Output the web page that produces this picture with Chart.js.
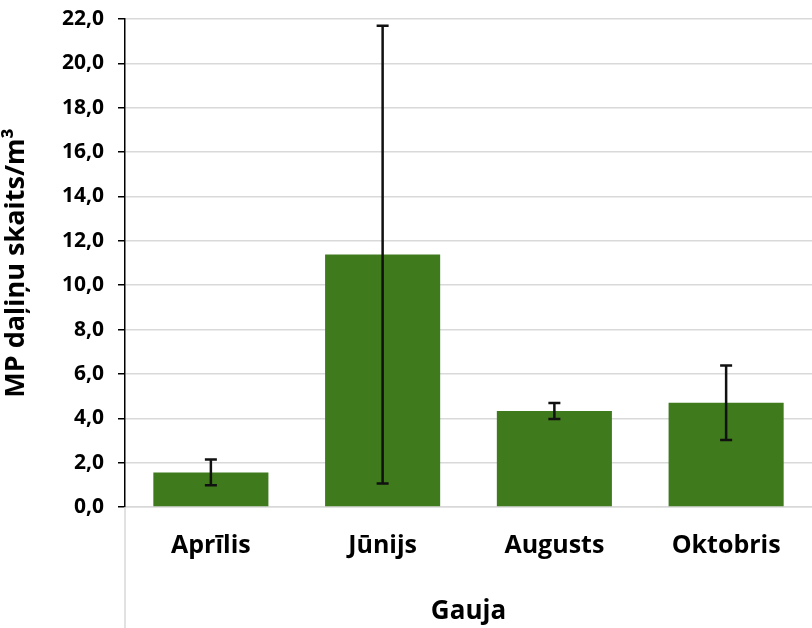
<!DOCTYPE html>
<html><head><meta charset="utf-8">
<script src="https://cdn.jsdelivr.net/npm/chart.js@4/dist/chart.umd.min.js"></script>
<style>html,body{margin:0;padding:0;background:#fff}#w{width:812px;height:628px}</style>
</head><body><div id="w"><canvas id="c" width="812" height="628"></canvas></div>
<script>
const categories = ["Aprīlis", "Jūnijs", "Augusts", "Oktobris"];
const meanValues = [1.56, 11.38, 4.33, 4.70];
const errorValues = [0.58, 10.32, 0.36, 1.68];
const yTicks = [0, 2, 4, 6, 8, 10, 12, 14, 16, 18, 20, 22];
const FONT = "'Open Sans', sans-serif";

const errorBars = {
  id: 'errorBars',
  afterDatasetsDraw(chart) {
    const ctx = chart.ctx, x = chart.scales.x, y = chart.scales.y;
    ctx.save();
    ctx.strokeStyle = '#111';
    ctx.lineWidth = 2.5;
    meanValues.forEach((m, i) => {
      const px = x.getPixelForValue(i);
      const top = y.getPixelForValue(m + errorValues[i]);
      const bot = y.getPixelForValue(m - errorValues[i]);
      ctx.beginPath();
      ctx.moveTo(px, top); ctx.lineTo(px, bot);
      ctx.moveTo(px - 6, top); ctx.lineTo(px + 6, top);
      ctx.moveTo(px - 6, bot); ctx.lineTo(px + 6, bot);
      ctx.stroke();
    });
    ctx.restore();
  }
};
const catLine = {
  id: 'catLine',
  afterDraw(chart) {
    const ctx = chart.ctx, a = chart.chartArea;
    ctx.save();
    ctx.strokeStyle = '#d9d9d9';
    ctx.lineWidth = 1.5;
    ctx.beginPath();
    ctx.moveTo(a.left, a.bottom); ctx.lineTo(a.left, chart.height);
    ctx.stroke();
    ctx.restore();
  }
};

new Chart(document.getElementById('c'), {
  type: 'bar',
  data: { labels: categories, datasets: [{ data: meanValues, backgroundColor: '#3f7a1c', borderWidth: 0, categoryPercentage: 0.67, barPercentage: 1 }] },
  plugins: [errorBars, catLine],
  options: {
    responsive: false, animation: false,
    layout: { padding: { top: 0, right: 0, left: 0, bottom: 0 } },
    plugins: { legend: { display: false }, tooltip: { enabled: false } },
    scales: {
      x: {
        grid: { display: false, drawTicks: false },
        border: { color: '#d9d9d9', width: 1.5 },
        ticks: { color: '#000', font: { family: FONT, size: 25, weight: 'bold' }, padding: 24 },
        title: { display: true, text: 'Gauja', color: '#000', font: { family: FONT, size: 26, weight: 'bold' }, padding: { top: 10, bottom: 1 } },
        afterFit(s) { s.height = 121; s.paddingLeft = 0; s.paddingRight = 0; }
      },
      y: {
        min: 0, max: 22,
        afterBuildTicks(s) { s.ticks = yTicks.map(v => ({ value: v })); },
        grid: { color: '#d9d9d9', lineWidth: 1.5, tickLength: 7, tickColor: '#000', tickWidth: 1.5 },
        border: { color: '#000', width: 1.5 },
        ticks: { color: '#000', font: { family: FONT, size: 21, weight: 'bold' }, padding: 14, callback: v => v.toFixed(1).replace('.', ',') },
        title: { display: true, text: 'MP daļiņu skaits/m³', color: '#000', font: { family: FONT, size: 27, weight: 'bold' }, padding: { top: 0, bottom: 2 } },
        afterFit(s) { s.width = 125; s.paddingTop = 19; s.paddingBottom = 0; }
      }
    }
  }
});
</script></body></html>
